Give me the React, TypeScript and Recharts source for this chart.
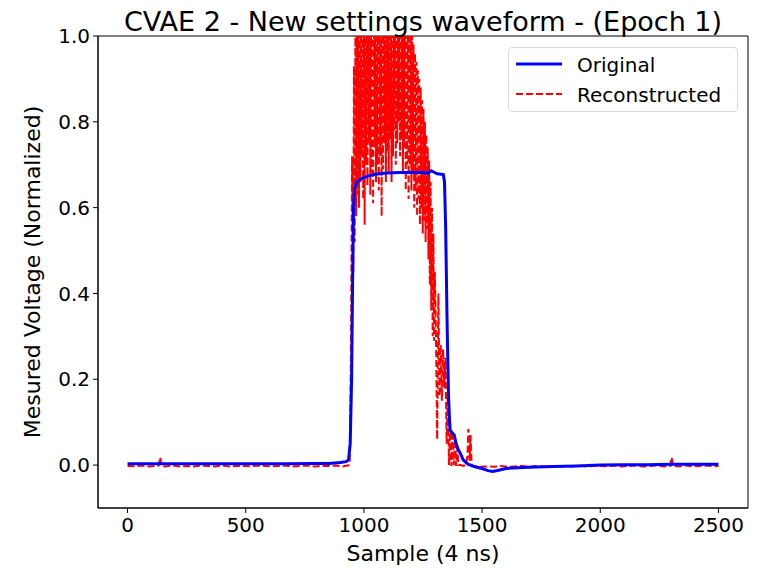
import React from 'react';
import { LineChart, Line, XAxis, YAxis, Legend, ReferenceArea } from 'recharts';

// [sample, value]
const ORIGINAL: [number, number][] = [
    [0, 0.003], [100, 0.003], [200, 0.003], [300, 0.003], [400, 0.003], [500, 0.003],
    [600, 0.003], [700, 0.003], [780, 0.004], [850, 0.004], [900, 0.006], [925, 0.008],
    [935, 0.012], [942, 0.05], [948, 0.2], [952, 0.42], [956, 0.6], [960, 0.645],
    [970, 0.66], [985, 0.666], [1000, 0.67], [1020, 0.674], [1050, 0.678], [1100, 0.681],
    [1150, 0.682], [1200, 0.682], [1250, 0.682], [1270, 0.68], [1285, 0.686], [1295, 0.683],
    [1310, 0.679], [1328, 0.678], [1336, 0.677], [1341, 0.66], [1346, 0.55], [1352, 0.33],
    [1358, 0.16], [1364, 0.082], [1372, 0.076], [1382, 0.07], [1390, 0.05], [1400, 0.035],
    [1410, 0.025], [1420, 0.012], [1440, 0.002], [1470, -0.004], [1500, -0.008],
    [1525, -0.013], [1545, -0.015], [1570, -0.012], [1600, -0.008], [1650, -0.006],
    [1700, -0.005], [1800, -0.003], [1900, -0.002], [2000, 0.0], [2100, 0.001],
    [2200, 0.001], [2300, 0.002], [2400, 0.002], [2500, 0.002],
];

// flat part before the pulse
const REC_BEFORE: [number, number][] = [
    [0, -0.002], [30, -0.003], [60, -0.001], [90, -0.003], [120, -0.002], [132, -0.001],
    [138, 0.018], [144, -0.002], [160, -0.003], [190, -0.001], [220, -0.003], [250, -0.002],
    [280, -0.003], [310, -0.001], [340, -0.002], [370, -0.003], [400, -0.001], [430, -0.003],
    [460, -0.002], [490, -0.002], [520, -0.003], [550, -0.001], [580, -0.002], [610, -0.003],
    [640, -0.002], [670, -0.001], [700, -0.003], [730, -0.002], [760, -0.001], [790, -0.003],
    [820, -0.002], [850, -0.002], [880, -0.001], [910, -0.003], [930, -0.001], [936, 0.0],
    [940, 0.01], [945, 0.25], [950, 0.72],
];

// the noisy pulse
const REC_PULSE: [number, number][] = [
    [955, 0.45], [958, 0.93], [961, 0.52], [964, 1.02], [967, 0.58], [970, 1.08],
    [973, 0.63], [976, 1.1], [979, 0.6], [982, 1.12], [985, 0.66], [988, 1.05],
    [991, 0.72], [994, 1.1], [997, 0.62], [1000, 1.14], [1003, 0.56], [1006, 1.08],
    [1009, 0.7], [1012, 1.12], [1015, 0.65], [1018, 1.04], [1021, 0.75], [1024, 1.15],
    [1027, 0.63], [1030, 1.06], [1033, 0.68], [1036, 1.1], [1039, 0.61], [1042, 1.12],
    [1045, 0.74], [1048, 1.02], [1051, 0.66], [1054, 1.1], [1057, 0.7], [1060, 1.14],
    [1063, 0.64], [1066, 1.05], [1069, 0.72], [1072, 1.1], [1075, 0.58], [1078, 1.12],
    [1081, 0.69], [1084, 1.06], [1087, 0.75], [1090, 1.12], [1093, 0.66], [1096, 1.04],
    [1099, 0.73], [1102, 1.1], [1105, 0.68], [1108, 1.15], [1111, 0.76], [1114, 1.06],
    [1117, 0.66], [1120, 1.12], [1123, 0.72], [1126, 1.04], [1129, 0.78], [1132, 1.1],
    [1135, 0.7], [1138, 1.12], [1141, 0.75], [1144, 1.03], [1147, 0.8], [1150, 1.1],
    [1153, 0.72], [1156, 1.06], [1159, 0.76], [1162, 1.12], [1165, 0.68], [1168, 1.02],
    [1171, 0.74], [1174, 1.1], [1177, 0.64], [1180, 1.06], [1183, 0.7], [1186, 1.08],
    [1189, 0.62], [1192, 1.04], [1195, 0.7], [1198, 1.02], [1201, 0.64], [1204, 1.0],
    [1207, 0.68], [1210, 0.98], [1213, 0.6], [1216, 0.96], [1219, 0.64], [1222, 0.94],
    [1225, 0.58], [1228, 0.92], [1231, 0.62], [1234, 0.9], [1237, 0.56], [1240, 0.88],
    [1243, 0.6], [1246, 0.85], [1249, 0.54], [1252, 0.83], [1255, 0.57], [1258, 0.8],
    [1261, 0.52], [1264, 0.77], [1267, 0.55], [1270, 0.74], [1273, 0.48], [1276, 0.71],
    [1279, 0.42], [1282, 0.66], [1285, 0.36], [1288, 0.6], [1291, 0.3], [1294, 0.54],
    [1297, 0.29], [1300, 0.45], [1305, 0.3], [1310, 0.06], [1315, 0.4], [1320, 0.16],
    [1325, 0.28], [1330, 0.15], [1335, 0.27], [1340, 0.18], [1345, 0.25], [1350, 0.05],
    [1355, 0.17], [1360, 0.0], [1365, 0.1], [1370, -0.002], [1375, 0.08], [1380, 0.0],
    [1385, 0.06], [1390, -0.002], [1395, 0.04], [1400, 0.0], [1410, 0.0], [1420, -0.002],
    [1430, 0.0], [1438, 0.02], [1442, 0.084], [1447, 0.01], [1451, 0.07], [1456, 0.0],
];

// flat part after the pulse
const REC_AFTER: [number, number][] = [
    [1465, -0.002], [1490, -0.004], [1520, -0.003], [1550, -0.004], [1580, -0.002],
    [1610, -0.004], [1640, -0.003], [1670, -0.002], [1700, -0.004], [1730, -0.002],
    [1760, -0.003], [1790, -0.002], [1820, -0.004], [1850, -0.002], [1880, -0.003],
    [1910, -0.001], [1940, -0.003], [1970, -0.002], [2000, -0.002], [2030, -0.003],
    [2060, -0.001], [2090, -0.003], [2120, -0.002], [2150, -0.001], [2180, -0.003],
    [2210, -0.002], [2240, -0.001], [2270, -0.003], [2296, -0.002], [2302, 0.018],
    [2308, -0.002], [2330, -0.003], [2360, -0.001], [2390, -0.003], [2420, -0.002],
    [2450, -0.001], [2480, -0.003], [2500, -0.002],
];

const X_TICKS = [0, 500, 1000, 1500, 2000, 2500];
const Y_TICKS = [0, 0.2, 0.4, 0.6, 0.8, 1.0];

const SERIES = [
    { name: 'Original', color: '#0000ff', dash: undefined as string | undefined, width: 3 },
    { name: 'Reconstructed', color: '#ff0000', dash: '7 3', width: 2 },
];

const FONT = 'DejaVu Sans, sans-serif';

const LegendBox = () => (
    <div
        style={{
            width: 230,
            height: 65,
            border: '1px solid #d9d9d9',
            borderRadius: 4,
            background: 'rgba(255,255,255,0.85)',
            boxSizing: 'border-box',
        }}
    >
        <svg width={230} height={65} style={{ display: 'block' }}>
            {SERIES.map((s, i) => (
                <g key={s.name}>
                    <line
                        x1={7}
                        x2={53}
                        y1={16 + i * 30}
                        y2={16 + i * 30}
                        stroke={s.color}
                        strokeWidth={s.width}
                        strokeDasharray={s.dash}
                    />
                    <text x={68} y={24 + i * 30} fontSize={20} fontFamily={FONT} fill="#000">
                        {s.name}
                    </text>
                </g>
            ))}
        </svg>
    </div>
);

export default function App() {
    const origData = ORIGINAL.map(([x, y]) => ({ x, y }));
    const recData = [...REC_BEFORE, ...REC_PULSE, ...REC_AFTER].map(([x, y]) => ({ x, y }));

    return (
        <div style={{ position: 'absolute', left: 0, top: 0, width: 774, height: 572, background: '#fff', fontFamily: FONT }}>
            <LineChart width={774} height={572} margin={{ top: 36, right: 26, left: 0, bottom: 0 }}>
                <XAxis
                    dataKey="x"
                    type="number"
                    domain={[-125, 2625]}
                    ticks={X_TICKS}
                    allowDataOverflow
                    height={64}
                    stroke="#000"
                    tickSize={5}
                    tickMargin={5}
                    tick={{ fill: '#000', fontSize: 20, fontFamily: FONT }}
                />
                <YAxis
                    dataKey="y"
                    type="number"
                    domain={[-0.1, 1.0]}
                    ticks={Y_TICKS}
                    allowDataOverflow
                    width={98}
                    stroke="#000"
                    tickSize={5}
                    tickMargin={3}
                    tickFormatter={(v: number) => v.toFixed(1)}
                    tick={{ fill: '#000', fontSize: 20, fontFamily: FONT }}
                />
                <ReferenceArea x1={-125} x2={2625} y1={-0.1} y2={1.0} fill="none" stroke="#000" strokeWidth={1} />
                <Line
                    data={recData}
                    dataKey="y"
                    name="Reconstructed"
                    type="linear"
                    stroke="#ff0000"
                    strokeWidth={2}
                    strokeDasharray="7 3"
                    dot={false}
                    isAnimationActive={false}
                />
                <Line
                    data={origData}
                    dataKey="y"
                    name="Original"
                    type="linear"
                    stroke="#0000ff"
                    strokeWidth={3}
                    dot={false}
                    isAnimationActive={false}
                />
                <Legend
                    layout="vertical"
                    align="center"
                    verticalAlign="middle"
                    content={() => <LegendBox />}
                    wrapperStyle={{ top: 47, left: 508, width: 230, height: 65 }}
                />
            </LineChart>
            <svg width={774} height={572} style={{ position: 'absolute', left: 0, top: 0, pointerEvents: 'none' }}>
                <text x={423} y={31} textAnchor="middle" fontSize={27} fontFamily={FONT} fill="#000">
                    CVAE 2 - New settings waveform - (Epoch 1)
                </text>
                <text x={423} y={561} textAnchor="middle" fontSize={22} fontFamily={FONT} fill="#000">
                    Sample (4 ns)
                </text>
                <text
                    transform="translate(40, 272) rotate(-90)"
                    textAnchor="middle"
                    fontSize={22}
                    fontFamily={FONT}
                    fill="#000"
                >
                    Mesured Voltage (Normalized)
                </text>
            </svg>
        </div>
    );
}
